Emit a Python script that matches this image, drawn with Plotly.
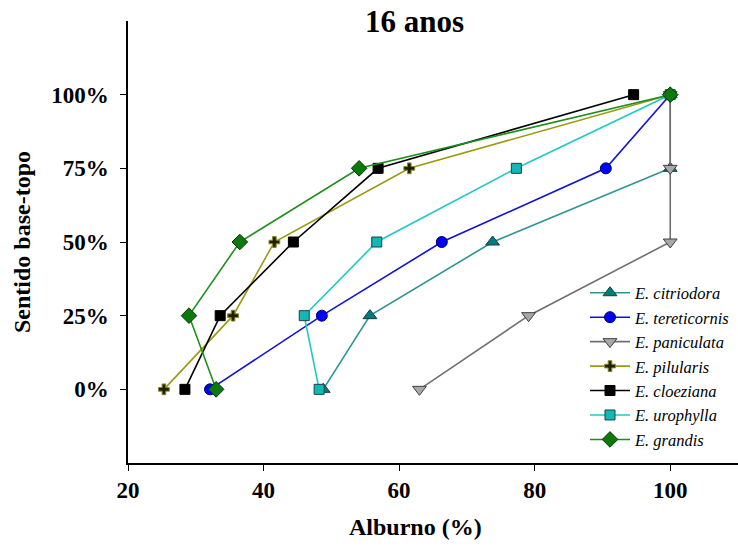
import plotly.graph_objects as go

levels = [0, 25, 50, 75, 100]
series_names = ["E. citriodora", "E. tereticornis", "E. paniculata", "E. pilularis",
                "E. cloeziana", "E. urophylla", "E. grandis"]

citriodora_x = [48.8, 55.7, 73.8, 100, 100]
citriodora_y = [0, 25, 50, 75, 100]
tereticornis_x = [32.1, 48.6, 66.3, 90.5, 100]
tereticornis_y = [0, 25, 50, 75, 100]
paniculata_x = [63.0, 79.1, 100, 100, 100]
paniculata_y = [0, 25, 50, 75, 100]
pilularis_x = [25.3, 35.5, 41.6, 61.5, 100]
pilularis_y = [0, 25, 50, 75, 100]
cloeziana_x = [28.4, 33.6, 44.4, 56.9, 94.6]
cloeziana_y = [0, 25, 50, 75, 100]
urophylla_x = [48.2, 46.0, 56.7, 77.3, 100]
urophylla_y = [0, 25, 50, 75, 100]
grandis_x = [33.0, 29.0, 36.5, 54.1, 100]
grandis_y = [0, 25, 50, 75, 100]

x_ticks = [20, 40, 60, 80, 100]
y_ticks = [0, 25, 50, 75, 100]
y_ticklabels = ["0%", "25%", "50%", "75%", "100%"]

styles = [
    dict(line="#2E9393", fill="#007C7C", symbol="triangle-up", size=12, mline="#1a3a3a"),
    dict(line="#1010E0", fill="#0000FF", symbol="circle", size=11, mline="#000060"),
    dict(line="#707070", fill="#A8A8A8", symbol="triangle-down", size=12, mline="#404040"),
    dict(line="#9A9A10", fill="#202000", symbol="cross", size=9, mline="#8A8A20"),
    dict(line="#000000", fill="#000000", symbol="square", size=10, mline="#000000"),
    dict(line="#20C8C8", fill="#10B8B8", symbol="square", size=10, mline="#204040"),
    dict(line="#1E8E1E", fill="#0A7A0A", symbol="diamond", size=12, mline="#103010"),
]

data = [
    (citriodora_x, citriodora_y), (tereticornis_x, tereticornis_y),
    (paniculata_x, paniculata_y), (pilularis_x, pilularis_y),
    (cloeziana_x, cloeziana_y), (urophylla_x, urophylla_y),
    (grandis_x, grandis_y),
]

fig = go.Figure()
for name, (xs, ys), st in zip(series_names, data, styles):
    fig.add_trace(go.Scatter(
        x=xs, y=ys, name=name, mode="lines+markers",
        line=dict(color=st["line"], width=1.6),
        marker=dict(symbol=st["symbol"], size=st["size"], color=st["fill"],
                    line=dict(color=st["mline"], width=1)),
    ))

serif = "Liberation Serif, Times New Roman, Times, serif"
fig.update_layout(
    width=738, height=549,
    margin=dict(l=128, r=0, t=21, b=86, autoexpand=False),
    paper_bgcolor="white", plot_bgcolor="white",
    showlegend=True,
    legend=dict(
        x=(585 - 128) / 610, y=(463 - 275.5) / 442, xanchor="left", yanchor="top",
        font=dict(family=serif, size=16.5, color="black", style="italic"),
        bgcolor="rgba(0,0,0,0)", borderwidth=0, tracegroupgap=0, itemwidth=40,
    ),
    xaxis=dict(
        range=[20, 110], tickvals=x_ticks, ticks="outside", ticklen=6, tickwidth=1.3,
        tickcolor="black", showline=True, linecolor="black", linewidth=1.5,
        showgrid=False, zeroline=False,
        tickfont=dict(family=serif, size=23, color="black", weight="bold"),
    ),
    yaxis=dict(
        range=[-25, 125], tickvals=y_ticks, ticktext=y_ticklabels, ticks="outside",
        ticklen=6, tickwidth=1.3, tickcolor="black", showline=True, linecolor="black",
        linewidth=1.5, showgrid=False, zeroline=False, ticklabelstandoff=7,
        tickfont=dict(family=serif, size=23, color="black", weight="bold"),
    ),
    annotations=[
        dict(text="<b>16 anos</b>", x=(414 - 128) / 610, y=(463 - 22) / 442,
             xref="paper", yref="paper", xanchor="center", yanchor="middle",
             showarrow=False, font=dict(family=serif, size=31, color="black")),
        dict(text="<b>Alburno (%)</b>", x=(415 - 128) / 610, y=(463 - 527) / 442,
             xref="paper", yref="paper", xanchor="center", yanchor="middle",
             showarrow=False, font=dict(family=serif, size=24, color="black")),
        dict(text="<b>Sentido base-topo</b>", x=(22 - 128) / 610, y=(463 - 242) / 442,
             xref="paper", yref="paper", xanchor="center", yanchor="middle",
             textangle=-90, showarrow=False, font=dict(family=serif, size=24, color="black")),
    ],
)

fig.write_html("out.html")
